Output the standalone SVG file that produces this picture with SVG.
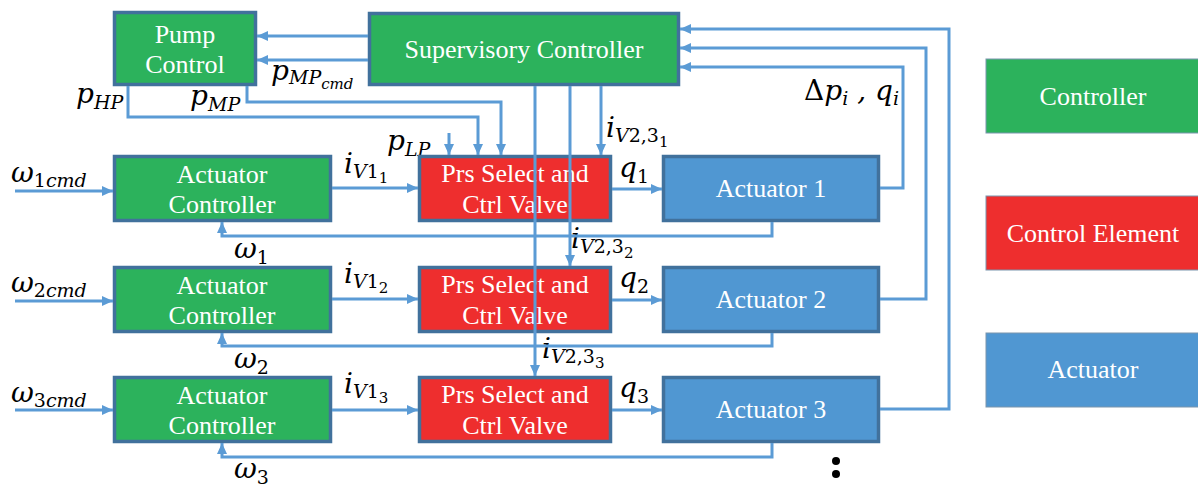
<svg xmlns="http://www.w3.org/2000/svg" width="1198" height="486" viewBox="0 0 1198 486">
<style>
.box{stroke:#41719c;stroke-width:3.5}
.g{fill:#2cb25c}.r{fill:#ee2e2e}.b{fill:#5097d2}
.leg{stroke:#7a95ad;stroke-width:1}
.t{font-family:"Liberation Serif","Times New Roman",serif;font-size:26px;fill:#fff;text-anchor:middle}
.m{font-family:"DejaVu Serif",serif;font-style:italic;font-size:28px;fill:#000}
.s{font-size:19px}.ss{font-size:15px}.n{font-style:normal}
.c{fill:none;stroke:#5b9bd5;stroke-width:3}
.a{marker-end:url(#arr)}
</style>
<defs>
<marker id="arr" markerUnits="userSpaceOnUse" markerWidth="11" markerHeight="10" refX="11" refY="5" orient="auto">
<path d="M0,0 L11,5 L0,10 z" fill="#5b9bd5"/>
</marker>
</defs>
<rect width="1198" height="486" fill="#fff"/>

<g id="labels">
<text class="m" x="11" y="182">ω<tspan class="s" dy="5"><tspan class="n">1</tspan>cmd</tspan></text>
<text class="m" x="11" y="292">ω<tspan class="s" dy="5"><tspan class="n">2</tspan>cmd</tspan></text>
<text class="m" x="11" y="402">ω<tspan class="s" dy="5"><tspan class="n">3</tspan>cmd</tspan></text>
<text class="m" x="234" y="258">ω<tspan class="s n" dy="6">1</tspan></text>
<text class="m" x="234" y="368">ω<tspan class="s n" dy="6">2</tspan></text>
<text class="m" x="234" y="478">ω<tspan class="s n" dy="6">3</tspan></text>
<text class="m" x="344" y="173">i<tspan class="s" dy="5">V<tspan class="n">1</tspan></tspan><tspan class="ss n" dy="5">1</tspan></text>
<text class="m" x="344" y="283">i<tspan class="s" dy="5">V<tspan class="n">1</tspan></tspan><tspan class="ss n" dy="5">2</tspan></text>
<text class="m" x="344" y="393">i<tspan class="s" dy="5">V<tspan class="n">1</tspan></tspan><tspan class="ss n" dy="5">3</tspan></text>
<text class="m" x="619" y="177">q<tspan class="s n" dy="6">1</tspan></text>
<text class="m" x="619" y="287">q<tspan class="s n" dy="6">2</tspan></text>
<text class="m" x="619" y="397">q<tspan class="s n" dy="6">3</tspan></text>
<text class="m" x="606" y="137">i<tspan class="s" dy="5">V<tspan class="n">2,3</tspan></tspan><tspan class="ss n" dy="5">1</tspan></text>
<text class="m" x="571" y="248">i<tspan class="s" dy="5">V<tspan class="n">2,3</tspan></tspan><tspan class="ss n" dy="5">2</tspan></text>
<text class="m" x="542" y="358">i<tspan class="s" dy="5">V<tspan class="n">2,3</tspan></tspan><tspan class="ss n" dy="5">3</tspan></text>
<text class="m" x="387" y="150">p<tspan class="s" dy="6">LP</tspan></text>
<text class="m" x="76" y="103">p<tspan class="s" dy="6">HP</tspan></text>
<text class="m" x="190" y="105">p<tspan class="s" dy="6">MP</tspan></text>
<text class="m" x="271" y="80">p<tspan class="s" dy="4">MP</tspan><tspan class="ss" dy="5">cmd</tspan></text>
<text class="m" x="804" y="100"><tspan class="n">Δ</tspan>p<tspan class="s" dy="5">i</tspan><tspan dy="-5"> , q</tspan><tspan class="s" dy="5">i</tspan></text>
</g>

<g id="pump-control">
<rect class="box g" x="114.5" y="12.5" width="141" height="72"/>
<text class="t" x="185" y="43">Pump</text>
<text class="t" x="185" y="73">Control</text>
</g>
<g id="supervisory-controller">
<rect class="box g" x="369.5" y="13.5" width="309" height="71"/>
<text class="t" x="524" y="58">Supervisory Controller</text>
</g>

<g id="actuator-controller-1">
<rect class="box g" x="114.5" y="156.5" width="216" height="64"/>
<text class="t" x="222" y="183">Actuator</text><text class="t" x="222" y="213">Controller</text>
</g>
<g id="actuator-controller-2">
<rect class="box g" x="114.5" y="267.5" width="216" height="64"/>
<text class="t" x="222" y="294">Actuator</text><text class="t" x="222" y="324">Controller</text>
</g>
<g id="actuator-controller-3">
<rect class="box g" x="114.5" y="377.5" width="216" height="64"/>
<text class="t" x="222" y="404">Actuator</text><text class="t" x="222" y="434">Controller</text>
</g>

<g id="valve-1">
<rect class="box r" x="419.5" y="156.5" width="191" height="64"/>
<text class="t" x="515" y="182">Prs Select and</text><text class="t" x="515" y="213">Ctrl Valve</text>
</g>
<g id="valve-2">
<rect class="box r" x="419.5" y="267.5" width="191" height="64"/>
<text class="t" x="515" y="293">Prs Select and</text><text class="t" x="515" y="324">Ctrl Valve</text>
</g>
<g id="valve-3">
<rect class="box r" x="419.5" y="377.5" width="191" height="64"/>
<text class="t" x="515" y="403">Prs Select and</text><text class="t" x="515" y="434">Ctrl Valve</text>
</g>

<g id="actuator-1">
<rect class="box b" x="663.5" y="156.5" width="215" height="64"/>
<text class="t" x="771" y="197">Actuator 1</text>
</g>
<g id="actuator-2">
<rect class="box b" x="663.5" y="267.5" width="215" height="64"/>
<text class="t" x="771" y="308">Actuator 2</text>
</g>
<g id="actuator-3">
<rect class="box b" x="663.5" y="377.5" width="215" height="64"/>
<text class="t" x="771" y="418">Actuator 3</text>
</g>

<g id="legend-controller">
<rect class="leg g" x="986" y="59" width="213" height="74"/>
<text class="t" x="1093" y="105">Controller</text>
</g>
<g id="legend-control-element">
<rect class="leg r" x="986" y="196" width="213" height="74"/>
<text class="t" x="1093" y="242">Control Element</text>
</g>
<g id="legend-actuator">
<rect class="leg b" x="986" y="333" width="213" height="74"/>
<text class="t" x="1093" y="378">Actuator</text>
</g>

<g id="connectors">
<path class="c a" d="M368,36 H257"/>
<path class="c a" d="M368,60 H257"/>
<path class="c a" d="M247,86 V102 H501 V155"/>
<path class="c a" d="M128,86 V117 H478 V155"/>
<path class="c a" d="M449,133 V155"/>
<path class="c a" d="M601,86 V155"/>
<path class="c a" d="M570,86 V266"/>
<path class="c a" d="M535,86 V376"/>
<path class="c a" d="M880,188 H903 V67 H680"/>
<path class="c a" d="M880,299 H926 V48 H680"/>
<path class="c a" d="M880,409 H949 V29 H680"/>
<path class="c a" d="M15,191 H113"/>
<path class="c a" d="M15,301 H113"/>
<path class="c a" d="M15,410 H113"/>
<path class="c a" d="M332,188 H418"/>
<path class="c a" d="M332,299 H418"/>
<path class="c a" d="M332,410 H418"/>
<path class="c a" d="M612,189 H662"/>
<path class="c a" d="M612,300 H662"/>
<path class="c a" d="M612,410 H662"/>
<path class="c a" d="M772,222 V236 H222 V222"/>
<path class="c a" d="M772,333 V346 H222 V333"/>
<path class="c a" d="M772,443 V457 H222 V443"/>
</g>
<g id="dots">
<circle cx="836" cy="461" r="4" fill="#000"/>
<circle cx="836" cy="474" r="4" fill="#000"/>
</g>
</svg>
